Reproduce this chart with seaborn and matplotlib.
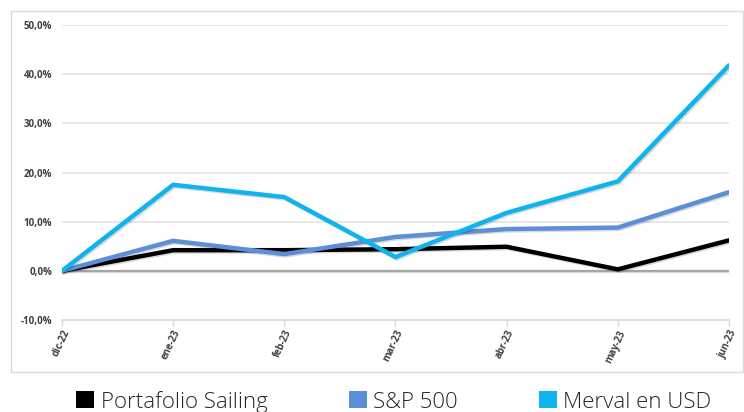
import pandas as pd
import numpy as np
import matplotlib.pyplot as plt
import matplotlib.patheffects as pe
from matplotlib.patches import Rectangle, Patch
from matplotlib.ticker import FuncFormatter
import seaborn as sns

# datos (% acumulado)
meses = ['dic-22', 'ene-23', 'feb-23', 'mar-23', 'abr-23', 'may-23', 'jun-23']
portafolio = [0.0, 4.2, 4.2, 4.4, 4.9, 0.3, 6.2]
sp500 = [0.0, 6.1, 3.4, 6.9, 8.5, 8.8, 16.0]
merval = [0.0, 17.5, 15.0, 2.8, 11.8, 18.2, 41.8]

series = ['Portafolio Sailing', 'S&P 500', 'Merval en USD']
colores = ['#000000', '#5b8fd6', '#0fb4ef']

df = pd.DataFrame({'mes': meses * 3,
                   'valor': portafolio + sp500 + merval,
                   'serie': np.repeat(series, len(meses))})
df['x'] = list(range(len(meses))) * 3

sns.set_style('white')
plt.rcParams['font.family'] = ['Open Sans', 'DejaVu Sans']

fig = plt.figure(figsize=(7.44, 4.12), dpi=100)
ax = fig.add_axes([0.0833, 0.2233, 0.8965, 0.716])

# marco del grafico
fig.patches.append(Rectangle((11 / 744, 1 - 372 / 412), 732 / 744, 361 / 412,
                             transform=fig.transFigure, fill=False,
                             edgecolor='#d9d9d9', linewidth=1))

for v in [10, 20, 30, 40, 50]:
    ax.axhline(v, color='#e3e3e3', linewidth=1.2, zorder=0)
ax.axhline(0, color='#a6a6a6', linewidth=1.6, zorder=1,
           path_effects=[pe.SimpleLineShadow(offset=(0, -1), alpha=0.12), pe.Normal()])

sns.lineplot(data=df, x='x', y='valor', hue='serie', hue_order=series,
             palette=colores, linewidth=3.2, ax=ax, legend=False, sort=False)
for ln in ax.get_lines()[-3:]:
    ln.set_path_effects([pe.SimpleLineShadow(offset=(1, -1), alpha=0.15), pe.Normal()])
    ln.set_solid_joinstyle('miter')

ax.set_xlim(0, len(meses) - 1)
ax.set_ylim(-10, 50)
ax.set_yticks([-10, 0, 10, 20, 30, 40, 50])
ax.yaxis.set_major_formatter(FuncFormatter(lambda v, p: f'{v:.1f}%'.replace('.', ',')))
ax.set_xticks(range(len(meses)))
ax.set_xticklabels(meses, rotation=65, ha='right', rotation_mode='anchor')
ax.set_xlabel('')
ax.set_ylabel('')

for s in ['top', 'right', 'left']:
    ax.spines[s].set_visible(False)
ax.spines['bottom'].set_color('#d9d9d9')
ax.spines['bottom'].set_linewidth(1.2)
ax.tick_params(axis='y', length=0, pad=7, labelsize=7, labelcolor='#404040')
ax.tick_params(axis='x', length=4, color='#d9d9d9', width=1, pad=2,
               labelsize=7, labelcolor='#404040', direction='out', bottom=True)
for t in ax.get_yticklabels() + ax.get_xticklabels():
    t.set_fontweight('bold')

handles = [Patch(facecolor=c, edgecolor='none') for c in colores]
leg = fig.legend(handles, series, loc='center', bbox_to_anchor=(0.5296, 0.025), ncol=3,
                 frameon=False, handlelength=0.8, handleheight=0.8,
                 handletextpad=0.3, columnspacing=3.65, labelcolor='#262626',
                 prop={'size': 16, 'weight': 'light'})

fig.savefig('out.png', dpi=100)
